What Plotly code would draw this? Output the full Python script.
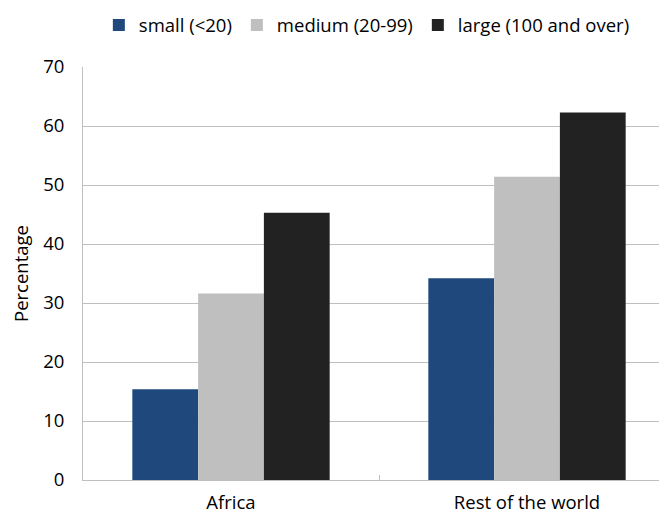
import plotly.graph_objects as go

categories = ["Africa", "Rest of the world"]
series_names = ["small (<20)", "medium (20-99)", "large (100 and over)"]
small = [15.4, 34.2]
medium = [31.6, 51.4]
large = [45.3, 62.3]
colors = ["#1f497d", "#bfbfbf", "#222222"]
y_ticks = [0, 10, 20, 30, 40, 50, 60, 70]

fig = go.Figure()
for name, vals, col in zip(series_names, [small, medium, large], colors):
    fig.add_trace(go.Bar(x=categories, y=vals, name=name, marker_color=col,
                         marker_line_width=0))

font = "Open Sans"
fs = 18.5
fig.update_layout(
    width=667, height=514,
    margin=dict(l=75, r=0, t=59, b=42, autoexpand=False),
    plot_bgcolor="white", paper_bgcolor="white",
    barmode="group", bargap=1/3, bargroupgap=0,
    font=dict(family=font, size=fs, color="#000000"),
    legend=dict(orientation="h", x=0.538, xref="container", xanchor="center",
                y=0.966, yref="container", yanchor="middle",
                font=dict(size=fs), itemwidth=30, traceorder="normal"),
    showlegend=True,
)
fig.update_yaxes(range=[0, 70], tickvals=y_ticks, showgrid=True, gridcolor="#bfbfbf",
                 gridwidth=1, showline=True, linecolor="#bfbfbf", linewidth=1,
                 ticks="", ticklabelstandoff=14, zeroline=False, automargin=False,
                 title=dict(text="Percentage", standoff=15, font=dict(size=fs)))
fig.update_xaxes(range=[-0.5, 1.5], showline=True, linecolor="#bfbfbf", linewidth=1,
                 ticks="inside", tickson="boundaries", ticklen=5, tickcolor="#bfbfbf",
                 showgrid=False, automargin=False, ticklabelstandoff=6)

fig.write_html("out.html")
